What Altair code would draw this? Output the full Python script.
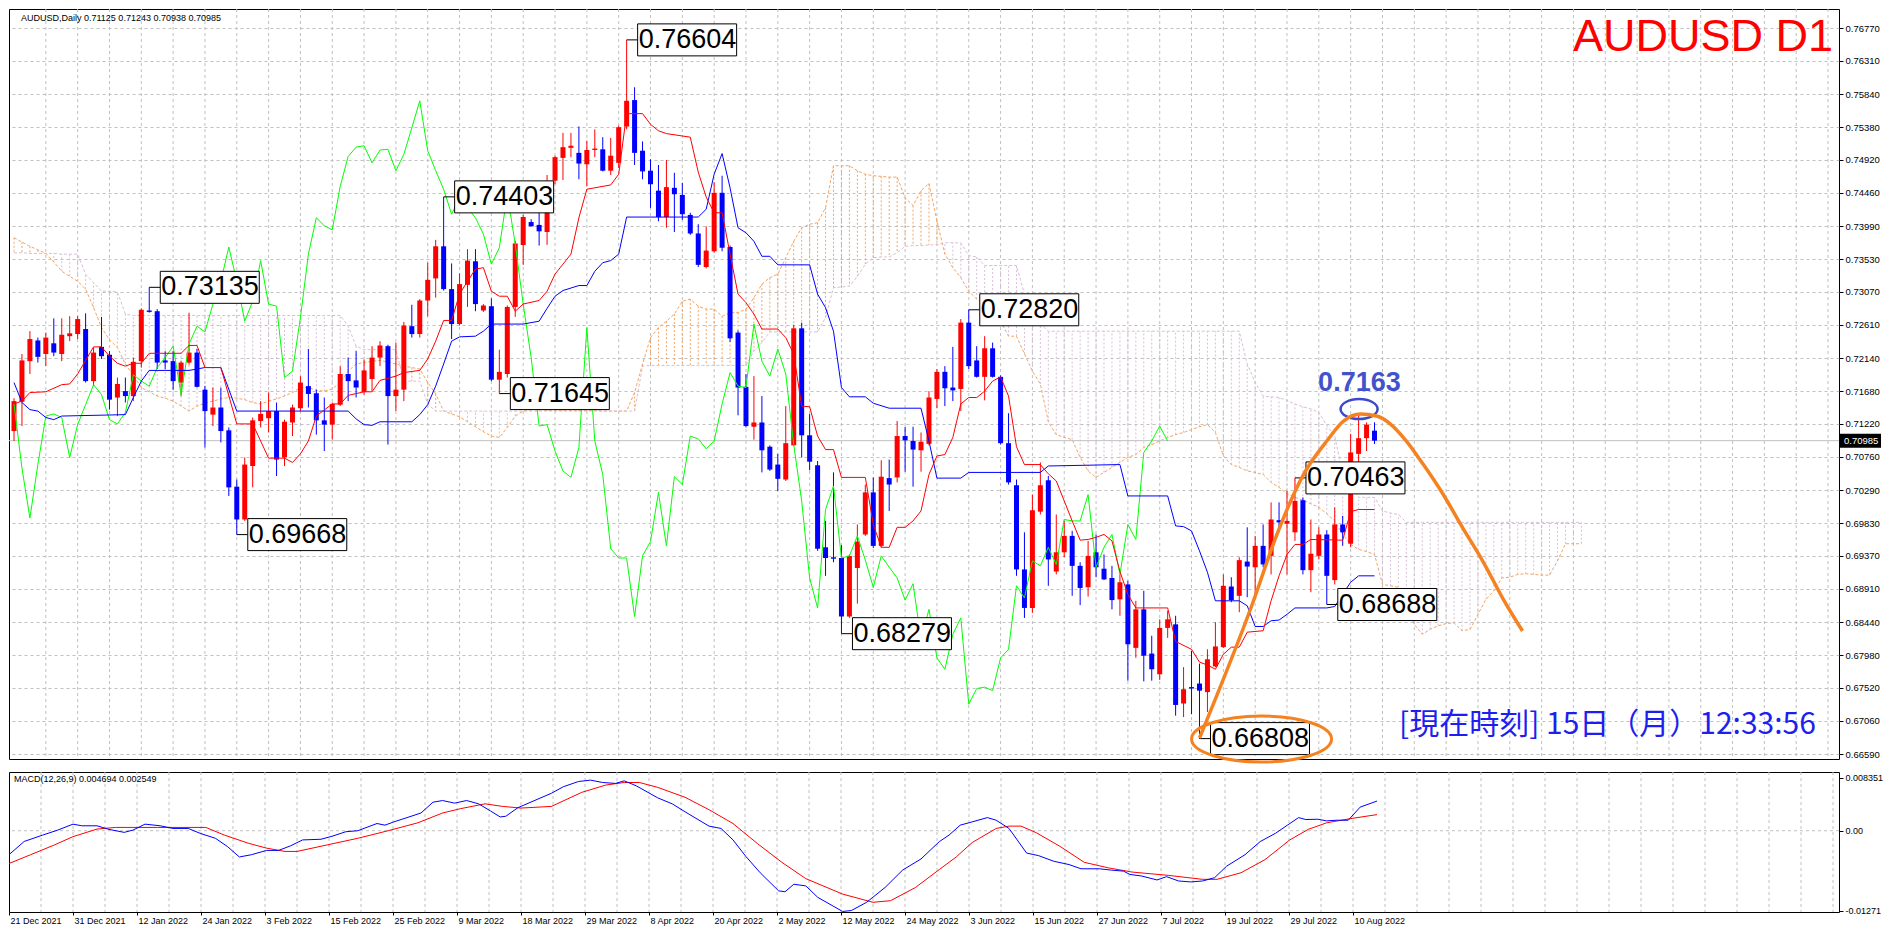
import altair as alt
import pandas as pd

# ---------------- candles (bar index 0 = 21 Dec 2021) ----------------
opens = [.7112,.7153,.7210,.7239,.7220,.7235,.7220,.7245,.7248,.7255,
         .7182,.7230,.7219,.7159,.7168,.7161,.7210,.7281,.7280,.7211,
         .7210,.7180,.7208,.7222,.7170,.7135,.7145,.7113,.7034,.6988,
         .7063,.7126,.7130,.7140,.7075,.7124,.7144,.7175,.7165,.7127,
         .7121,.7149,.7192,.7183,.7167,.7185,.7215,.7231,.7161,.7170,
         .7259,.7248,.7295,.7326,.7371,.7311,.7262,.7317,.7350,.7281,
         .7287,.7184,.7192,.7286,.7373,.7405,.7401,.7391,.7463,.7495,
         .7509,.7502,.7486,.7506,.7507,.7477,.7488,.7539,.7576,.7505,
         .7477,.7449,.7412,.7453,.7443,.7415,.7389,.7342,.7364,.7446,
         .7370,.7250,.7174,.7118,.7124,.7090,.7065,.7044,.7092,.7256,
         .7106,.7064,.6949,.6935,.6934,.6852,.6920,.6967,.7026,.6951,
         .7046,.7047,.7105,.7098,.7085,.7094,.7157,.7195,.7173,.7171,
         .7264,.7211,.7188,.7228,.7188,.7095,.7036,.6918,.6864,.6999,
         .7043,.6915,.6942,.6965,.6923,.6893,.6942,.6919,.6906,.6876,
         .6897,.6808,.6862,.6800,.6771,.6836,.6841,.6730,.6753,.6758,
         .6746,.6782,.6809,.6894,.6881,.6929,.6921,.6951,.6937,.6987,
         .6982,.6970,.7015,.6917,.6937,.6967,.6903,.6981,.6954,.7080,
         .7102,.71125]
highs = [.7158,.7220,.7252,.7243,.7250,.7270,.7270,.7273,.7273,.7277,
         .7229,.7272,.7224,.7187,.7187,.7215,.7284,.73135,.7283,.7224,
         .7224,.7210,.7278,.7227,.7175,.7173,.7173,.7117,.7044,.7075,
         .7131,.7154,.7166,.7152,.7128,.7149,.7189,.7227,.7170,.7159,
         .7152,.7203,.7215,.7224,.7212,.7231,.7238,.7233,.7236,.7265,
         .7289,.7297,.7348,.7380,.74403,.7347,.7333,.7367,.7367,.7290,
         .7298,.7226,.7288,.7379,.7415,.7409,.7418,.7471,.7498,.7530,
         .7530,.7539,.7519,.7535,.7524,.7523,.7540,.76604,.7594,.7518,
         .7493,.7485,.7492,.7474,.7460,.7418,.7402,.7399,.7461,.7470,
         .7372,.7253,.7192,.7189,.7161,.7092,.7080,.7147,.7261,.7264,
         .7136,.7070,.6986,.7054,.6952,.6939,.6981,.7037,.7047,.7071,
         .7072,.7126,.7118,.7118,.7110,.7168,.7199,.7203,.7230,.7269,
         .72820,.7231,.7245,.7236,.7190,.7137,.7044,.6970,.7023,.7068,
         .7049,.6995,.6986,.6972,.6928,.6958,.6967,.6939,.6923,.6911,
         .6902,.6874,.6888,.6825,.6848,.6860,.6853,.6781,.6804,.6786,
         .6806,.6844,.6911,.6907,.6935,.6977,.6965,.6981,.7012,.7012,
         .7028,.70463,.7019,.6988,.6977,.6973,.7005,.6993,.7108,.7135,
         .7124,.71243]
lows = [.7098,.7119,.7192,.7208,.7203,.7217,.7210,.7238,.7241,.7180,
        .7175,.7213,.7142,.7133,.7152,.7154,.7201,.7278,.7199,.7199,
        .7170,.7161,.7205,.7173,.7089,.7119,.7096,.7021,.69668,.6986,
        .7033,.7117,.7110,.7049,.7063,.7105,.7140,.7145,.7107,.7084,
        .7100,.7147,.7154,.7159,.7163,.7168,.7203,.7093,.7140,.7154,
        .7243,.7243,.7273,.7299,.7309,.7241,.7260,.7286,.7280,.7279,
        .7182,.71645,.7187,.7272,.7345,.7399,.7372,.7373,.7458,.7464,
        .7496,.7465,.7455,.7496,.7476,.7471,.7481,.7535,.7485,.7465,
        .7425,.7406,.7397,.7391,.7408,.7387,.7342,.7340,.7362,.7364,
        .7237,.7134,.7117,.7100,.7054,.7056,.7028,.7042,.7091,.7075,
        .7057,.6944,.6909,.6928,.68279,.6850,.6870,.6965,.6948,.6949,
        .7000,.7040,.7055,.7034,.7055,.7092,.7144,.7147,.7154,.7140,
        .7199,.7187,.7155,.7187,.7093,.7037,.6909,.6850,.6857,.6995,
        .6895,.6911,.6935,.6881,.6868,.6880,.6907,.6903,.6862,.6853,
        .6762,.6794,.6761,.6762,.6763,.6822,.6713,.6711,.6715,.66808,
        .6718,.6781,.6808,.6872,.6858,.6879,.6879,.6921,.6911,.6970,
        .6911,.6958,.6911,.6886,.6932,.68688,.6897,.6951,.6949,.7062,
        .7084,.70938]
closes = [.7154,.7211,.7241,.7216,.7243,.7222,.7247,.7249,.7269,.7182,
          .7222,.7217,.7156,.7178,.7161,.7209,.7282,.7279,.7208,.7208,
          .7182,.7208,.7222,.7174,.7140,.7145,.7112,.7033,.6988,.7065,
          .7127,.7136,.7140,.7072,.7125,.7145,.7180,.7164,.7127,.7121,
          .7150,.7192,.7182,.7173,.7197,.7215,.7232,.7161,.7170,.7260,
          .7248,.7295,.7324,.7371,.7311,.7262,.7318,.7351,.7290,.7288,
          .7184,.7195,.7286,.7375,.7412,.7399,.7392,.7462,.7496,.7510,
          .7512,.7487,.7506,.7508,.7477,.7498,.7538,.7575,.7502,.7476,
          .7458,.7412,.7454,.7444,.7416,.7389,.7345,.7365,.7446,.7369,
          .7242,.7173,.7119,.7124,.7085,.7058,.7045,.7095,.7256,.7106,
          .7069,.6947,.6934,.6933,.6852,.6937,.6957,.7026,.6951,.7048,
          .7037,.7105,.7099,.7086,.7097,.7159,.7195,.7172,.7169,.7264,
          .7203,.7188,.7228,.7188,.7095,.7040,.6918,.6864,.7001,.7036,
          .6932,.6942,.6965,.6923,.6892,.6937,.6921,.6904,.6875,.6900,
          .6813,.6862,.6797,.6778,.6836,.6848,.6728,.6750,.6751,.6748,
          .6792,.6810,.6895,.6875,.6931,.6922,.6951,.6925,.6988,.6984,
          .6986,.7014,.6917,.6940,.6967,.6909,.6981,.6970,.7082,.7102,
          .7121,.70985]

# ---------------- Ichimoku lines (bar, price) ----------------
tenkan = [(0,.7150),(1,.7154),(2,.7166),(4,.7167),(6,.7177),(7,.7178),(8,.7192),(10,.7230),(11,.7230),
          (12,.7217),(13,.7207),(14,.7203),(15,.7207),(16,.7207),(17,.7221),(21,.7221),(22,.7232),(23,.7232),
          (24,.7201),(26,.7201),(28,.7122),(30,.7122),(32,.7074),(34,.7074),(35,.7068),(36,.7080),(37,.7098),
          (38,.7133),(40,.7150),(41,.7150),(42,.7162),(44,.7167),(45,.7167),(46,.7183),(48,.7189),(49,.7194),
          (51,.7197),(52,.7213),(53,.7238),(54,.7267),(55,.7267),(56,.7304),(57,.7322),(58,.7339),(59,.7341),
          (60,.7308),(61,.7301),(62,.7301),(63,.7280),(64,.7290),(66,.7295),(67,.7308),(68,.7332),(69,.7346),
          (70,.7360),(71,.7411),(72,.7451),(73,.7453),(75,.7457),(76,.7472),(77,.7557),(79,.7557),(80,.7542),
          (81,.7533),(82,.7529),(85,.7524),(86,.7475),(87,.7440),(88,.7418),(89,.7418),(90,.7360),(91,.7304),
          (92,.7292),(93,.7276),(94,.7255),(96,.7255),(97,.7243),(98,.7220),(99,.7147),(100,.7146),(101,.7105),
          (102,.7086),(103,.7086),(104,.7047),(107,.7047),(108,.6981),(109,.6949),(110,.6949),(111,.6977),
          (112,.6977),(113,.6986),(114,.7000),(115,.7051),(116,.7077),(117,.7079),(118,.7103),(119,.7150),
          (120,.7159),(121,.7159),(122,.7168),(123,.7182),(124,.7188),(125,.7161),(126,.7090),(127,.7065),
          (129,.7065),(130,.7052),(131,.7042),(132,.7014),(133,.6986),(134,.6959),(135,.6960),(136,.6963),
          (137,.6967),(138,.6958),(139,.6915),(140,.6883),(141,.6864),(145,.6864),(146,.6817),(148,.6806),
          (149,.6788),(150,.6784),(151,.6778),(152,.6799),(153,.6809),(154,.6809),(155,.6830),(157,.6832),
          (158,.6874),(159,.6909),(160,.6939),(161,.6953),(162,.6953),(163,.6960),(167,.6959),(168,.6999),
          (169,.7002),(171,.7002)]
kijun = [(0,.7180),(1,.7152),(2,.7142),(3,.7140),(4,.7131),(5,.7128),(6,.7133),(14,.7135),(15,.7159),
         (16,.7182),(17,.7197),(22,.7197),(23,.7199),(24,.7201),(26,.7201),(28,.7140),(42,.7140),(43,.7129),
         (44,.7121),(45,.7120),(46,.7125),(50,.7125),(51,.7135),(52,.7149),(53,.7175),(54,.7206),(55,.7238),
         (56,.7244),(58,.7245),(59,.7252),(60,.7262),(64,.7262),(66,.7266),(67,.7284),(68,.7301),(69,.7309),
         (71,.7316),(72,.7316),(73,.7336),(74,.7348),(75,.7351),(76,.7360),(77,.7412),(86,.7412),(87,.7423),
         (88,.7472),(89,.7501),(90,.7453),(91,.7397),(92,.7390),(93,.7378),(94,.7357),(95,.7357),(96,.7345),
         (100,.7345),(101,.7304),(102,.7285),(103,.7252),(104,.7173),(105,.7160),(107,.7160),(108,.7151),
         (110,.7144),(114,.7144),(115,.7098),(116,.7046),(119,.7046),(120,.7054),(129,.7054),(130,.7063),
         (139,.7065),(140,.7021),(145,.7021),(146,.6979),(147,.6978),(148,.6972),(149,.6944),(150,.6914),
         (151,.6874),(154,.6874),(155,.6867),(156,.6838),(157,.6838),(158,.6846),(159,.6847),(160,.6855),
         (161,.6864),(165,.6864),(166,.6866),(167,.6883),(168,.6900),(169,.6909),(171,.6909)]
chikou = [(0,.7150),(1,.7060),(2,.6990),(3,.7065),(4,.7133),(5,.7136),(6,.7131),(7,.7075),(8,.7121),(9,.7149),
          (10,.7177),(11,.7163),(12,.7128),(13,.7122),(14,.7138),(15,.7191),(16,.7182),(17,.7175),(18,.7201),
          (19,.7215),(20,.7231),(21,.7163),(22,.7234),(23,.7259),(24,.7251),(25,.7290),(26,.7322),(27,.7370),
          (28,.7322),(29,.7266),(30,.7294),(31,.7351),(32,.7290),(33,.7287),(34,.7187),(35,.7196),(36,.7271),
          (37,.7360),(38,.7411),(39,.7400),(40,.7394),(41,.7455),(42,.7497),(43,.7510),(44,.7512),(45,.7488),
          (46,.7506),(47,.7507),(48,.7477),(49,.7500),(50,.7537),(51,.7575),(52,.7505),(53,.7477),(54,.7451),
          (55,.7416),(56,.7439),(57,.7425),(58,.7411),(59,.7388),(60,.7346),(61,.7369),(62,.7444),(63,.7374),
          (64,.7290),(65,.7215),(66,.7119),(67,.7121),(68,.7084),(69,.7056),(70,.7047),(71,.7089),(72,.7257),
          (73,.7098),(74,.7051),(75,.6947),(76,.6934),(77,.6934),(78,.6852),(79,.6937),(80,.6957),(81,.7026),
          (82,.6951),(83,.7048),(84,.7037),(85,.7105),(86,.7101),(87,.7087),(88,.7098),(89,.7150),(90,.7194),
          (91,.7175),(92,.7173),(93,.7262),(94,.7210),(95,.7189),(96,.7227),(97,.7192),(98,.7093),(99,.7014),
          (100,.6906),(101,.6864),(102,.7002),(103,.7035),(104,.6934),(105,.6937),(106,.6965),(107,.6931),
          (108,.6893),(109,.6937),(110,.6921),(111,.6906),(112,.6875),(113,.6898),(114,.6820),(115,.6862),
          (116,.6794),(117,.6778),(118,.6827),(119,.6850),(120,.6729),(121,.6751),(122,.6753),(123,.6748),
          (124,.6794),(125,.6806),(126,.6895),(127,.6878),(128,.6930),(129,.6923),(130,.6949),(131,.6925),
          (132,.6988),(133,.6986),(134,.6986),(135,.7023),(136,.6921),(137,.6949),(138,.6967),(139,.6911),
          (140,.6981),(141,.6960),(142,.7082),(143,.7098),(144,.7119),(145,.7098)]

# Senkou spans, one value per bar 0..197
span_a = [.7383,.7377,.7371,.7366,.7361,.7349,.7336,.7329,.7322,.7311,
          .7285,.7257,.7240,.7229,.7206,.7190,.7173,.7167,.7161,.7158,
          .7154,.7147,.7140,.7147,.7151,.7154,.7157,.7159,.7158,.7156,
          .7152,.7150,.7154,.7157,.7161,.7166,.7173,.7173,.7169,.7168,
          .7171,.7180,.7196,.7206,.7208,.7210,.7211,.7209,.7206,.7203,
          .7201,.7199,.7180,.7164,.7140,.7136,.7132,.7125,.7118,.7111,
          .7105,.7103,.7117,.7133,.7140,.7142,.7142,.7141,.7141,.7141,
          .7141,.7141,.7141,.7141,.7140,.7140,.7140,.7140,.7166,.7206,
          .7243,.7257,.7266,.7276,.7294,.7297,.7287,.7283,.7283,.7273,
          .7278,.7278,.7283,.7299,.7318,.7327,.7332,.7355,.7378,.7397,
          .7402,.7404,.7425,.7484,.7484,.7484,.7477,.7472,.7470,.7469,
          .7468,.7468,.7439,.7428,.7449,.7459,.7407,.7360,.7341,.7327,
          .7308,.7297,.7290,.7276,.7266,.7245,.7245,.7220,.7196,.7178,
          .7125,.7107,.7103,.7100,.7075,.7056,.7047,.7054,.7061,.7068,
          .7075,.7079,.7089,.7093,.7098,.7103,.7107,.7110,.7114,.7118,
          .7121,.7110,.7077,.7065,.7061,.7056,.7054,.7051,.7040,.7033,
          .7024,.7019,.7015,.7010,.7005,.6996,.6986,.6967,.6953,.6946,
          .6943,.6939,.6897,.6895,.6893,.6867,.6841,.6827,.6834,.6839,
          .6842,.6843,.6832,.6834,.6855,.6876,.6888,.6906,.6907,.6911,
          .6912,.6911,.6910,.6910,.6930,.6954,.6954,.6954]
span_b = ([.7362,.7362,.7361,.7361,.7361,.7361,.7360,.7360,.7360,.7332,
           .7320,.7308,.7308,.7307,.7276] + [.7274] * 27 +
          [.7259,.7231] + [.7226] * 5 + [.7182] * 3 + [.7150] + [.7140] * 26 +
          [.7203] + [.7204] * 13 + [.7224,.7236] + [.7251] * 7 +
          [.7271,.7313,.7314,.7315,.7329,.7346,.7355,.7356,.7356,.7362,
           .7371,.7372,.7372,.7373,.7373,.7376,.7376,.7376,.7358,.7356] +
          [.7344] * 5 + [.7304,.7285,.7262] + [.7252] * 25 +
          [.7206,.7180,.7161,.7160,.7159,.7155,.7150,.7146,.7143,.7138,
           .7120,.7105,.7051,.7035,.7019,.7019,.7019,.7000,.6997,.6995] +
          [.6984] * 23)

# ---------------- MACD (bar, value) ----------------
macd_main = [(0,-.0038),(1.9,-.0017),(4.2,-.0007),(6.1,.0001),(8.0,.00104),(9.1,.00078),(11.0,.00078),
             (12.5,.00021),(14.4,-.00026),(15.5,.0001),(17.0,.00104),(18.9,.00078),(20.5,.00036),(22.4,.00036),
             (23.9,-.00042),(25.8,-.0012),(27.3,-.0025),(28.8,-.00416),(30.3,-.0038),(32.2,-.00312),
             (33.7,-.00312),(35.2,-.00239),(36.7,-.00146),(39.0,-.00135),(40.5,-.00083),(42.1,-.00016),
             (43.6,0.0),(46.0,.00114),(47.0,.00088),(48.1,.0014),(50.0,.00218),(51.5,.00281),(53.0,.00452),
             (54.2,.00478),(55.7,.00437),(57.2,.00478),(58.7,.00426),(60.2,.00312),(61.4,.00218),(62.1,.00229),
             (63.6,.00364),(65.5,.00468),(67.8,.00593),(69.3,.00697),(71.2,.0078),(72.7,.00801),(74.2,.00764),
             (75.8,.00749),(76.9,.0079),(78.4,.00712),(81.1,.0052),(82.9,.00426),(84.9,.0027),(87.5,.00073),
             (89.0,.00036),(90.5,-.00146),(92.1,-.00406),(93.9,-.00666),(96.2,-.00952),(97.0,-.00967),
             (98.1,-.00848),(99.6,-.00874),(101.1,-.01056),(104.2,-.01279),(105.3,-.01264),(107.2,-.01134),
             (109.5,-.009),(111.7,-.00624),(114.0,-.00447),(116.3,-.00172),(117.5,-.0007),(118.9,.00088),
             (120.4,.0014),(122.3,.00208),(123.4,.00166),(125.0,.00036),(127.2,-.00354),(128.7,-.00395),
             (130.6,-.00484),(132.5,-.00536),(134.0,-.00603),(136.3,-.00603),(137.8,-.00624),(139.3,-.0064),
             (140.1,-.00692),(141.6,-.00718),(143.5,-.0078),(144.7,-.00728),(146.2,-.00796),(147.7,-.00811),
             (149.2,-.00796),(150.7,-.00744),(152.2,-.00562),(154.5,-.0038),(156.4,-.00172),(158.3,-.00042),
             (159.8,.00088),(161.2,.00208),(162.1,.00177),(163.6,.00182),(164.7,.00156),(165.9,.00166),
             (167.4,.00166),(168.9,.00374),(171.0,.0047)]
macd_signal = [(0,-.0052),(2.7,-.0038),(5.7,-.00224),(8.0,-.00094),(11.0,.00026),(13.3,.00052),(18.6,.00052),
               (24.6,.00052),(26.9,-.00068),(29.9,-.00198),(32.2,-.00276),(34.5,-.00328),(36.0,-.00328),
               (39.8,-.00224),(43.6,-.0012),(47.4,0.0),(51.1,.00125),(54.2,.00281),(56.4,.00348),(59.5,.00426),
               (61.7,.00385),(64.0,.00359),(67.8,.00385),(71.6,.00608),(74.6,.00723),(76.9,.00764),(78.8,.00764),
               (81.1,.00686),(84.5,.0053),(87.5,.00333),(90.5,.00114),(93.6,-.00208),(96.6,-.005),(99.6,-.00759),
               (104.2,-.01004),(108.0,-.01134),(110.2,-.01108),(113.3,-.009),(116.3,-.00614),(118.4,-.00416),
               (120.4,-.00187),(123.4,.00036),(125.0,.00073),(126.5,.00073),(128.4,-.00031),(131.4,-.0025),
               (134.4,-.005),(137.4,-.00588),(140.4,-.00655),(144.9,-.00707),(149.2,-.0077),(151.0,-.0077),
               (154.0,-.00666),(157.0,-.00458),(160.1,-.00146),(162.4,.00021),(164.7,.00125),(167.7,.00192),
               (171.0,.00255)]

# ---------------- labels / annotations ----------------
price_ticks = [0.76770, 0.76310, 0.75840, 0.75380, 0.74920, 0.74460, 0.73990, 0.73530, 0.73070,
               0.72610, 0.72140, 0.71680, 0.71220, 0.70760, 0.70290, 0.69830, 0.69370, 0.68910,
               0.68440, 0.67980, 0.67520, 0.67060, 0.66590]
macd_ticks = [0.008351, 0.0, -0.01271]
date_labels = ['21 Dec 2021', '31 Dec 2021', '12 Jan 2022', '24 Jan 2022', '3 Feb 2022', '15 Feb 2022',
               '25 Feb 2022', '9 Mar 2022', '18 Mar 2022', '29 Mar 2022', '8 Apr 2022', '20 Apr 2022',
               '2 May 2022', '12 May 2022', '24 May 2022', '3 Jun 2022', '15 Jun 2022', '27 Jun 2022',
               '7 Jul 2022', '19 Jul 2022', '29 Jul 2022', '10 Aug 2022']
ann_bars = [17, 77, 54, 61, 28, 120, 104, 161, 165, 149]
ann_prices = [0.73135, 0.76604, 0.74403, 0.71645, 0.69668, 0.72820, 0.68279, 0.70463, 0.68688, 0.66808]
arc_pts = [(149.0,.66816),(155.6,.68681),(158.75,.69676),(162.1,.70517),(165.0,.70980),(167.1,.71260),
           (169.25,.71358),(171.25,.71330),(173.0,.71218),(175.0,.70980),(177.1,.70657),(179.6,.70237),
           (182.1,.69760),(184.6,.69297),(187.1,.68779),(189.6,.68316)]
last_price = 0.70985
target_text = "0.7163"
target_pos = (169.1, 0.71793)
blue_ell = (169.06, 0.71428)
orange_ell = (156.8, 0.66802)
header = "AUDUSD,Daily  0.71125 0.71243 0.70938 0.70985"
macd_header = "MACD(12,26,9) 0.004694 0.002549"
clock = "[現在時刻] 15日（月）12:33:56"

# ---------------- geometry / style ----------------
W, H, MH = 1830, 750, 140
XMAX = W / 8
Y_HI = 0.77037
Y_LO = Y_HI - H * 0.0001402
M_HI = 0.009301
M_LO = M_HI - MH * 0.0001584
RED, BLUE, GREEN = "#FF0000", "#0000FF", "#00FF00"
SANDY, THISTLE, GRID = "#F4A460", "#D8BFD8", "#C0C0C0"
ORANGE = "#F58220"
FONT = "Liberation Sans"

xsc = alt.Scale(domain=[0, XMAX], nice=False, zero=False)
ysc = alt.Scale(domain=[Y_LO, Y_HI], nice=False, zero=False)
msc = alt.Scale(domain=[M_LO, M_HI], nice=False, zero=False)

YAX = alt.Axis(orient="right", values=price_ticks, format=".5f", grid=True, gridDash=[3, 3],
               gridColor=GRID, gridWidth=1, tickSize=4, tickColor="black", domain=False,
               labelFont=FONT, labelFontSize=9.5, labelColor="black", labelPadding=2,
               labelOverlap=False, labelFlush=False, title=None)
date_js = "[" + ",".join("'" + d + "'" for d in date_labels) + "]"
MXAX = alt.Axis(values=list(range(0, 8 * len(date_labels), 8)), labelExpr=date_js + "[datum.value / 8]",
                labelAlign="left", labelOffset=1, tickSize=3, tickColor="black", domain=False, grid=False,
                labelFont=FONT, labelFontSize=9, labelColor="black", labelPadding=1, labelOverlap=False,
                labelFlush=False, title=None)
MYAX = alt.Axis(orient="right", values=macd_ticks,
                labelExpr="datum.value == 0 ? '0.00' : (datum.value > 0 ? '0.008351' : '-0.01271')",
                grid=False, tickSize=4, tickColor="black", domain=False, labelFont=FONT, labelFontSize=9,
                labelColor="black", labelPadding=2, labelOverlap=False, labelFlush=False, title=None)


def X(f):
    return alt.X(f, type="quantitative", scale=xsc, axis=None)


def Y(f):
    return alt.Y(f, type="quantitative", scale=ysc, axis=YAX)


def MX(f):
    return alt.X(f, type="quantitative", scale=xsc, axis=MXAX)


def MY(f):
    return alt.Y(f, type="quantitative", scale=msc, axis=MYAX)


def ellipse_path(k):
    c = 0.5523
    return (f"M -1 0 C -1 {-c*k:.4f} {-c:.4f} {-k:.4f} 0 {-k:.4f} "
            f"C {c:.4f} {-k:.4f} 1 {-c*k:.4f} 1 0 "
            f"C 1 {c*k:.4f} {c:.4f} {k:.4f} 0 {k:.4f} "
            f"C {-c:.4f} {k:.4f} -1 {c*k:.4f} -1 0 Z")


def fixed_text(txt, x, y, **kw):
    return alt.Chart(pd.DataFrame({"t": [txt]})).mark_text(**kw).encode(
        x=alt.value(x), y=alt.value(y), text="t:N")


def line(pts, color, x_fn, y_fn, dash=None, width=1.0):
    kw = dict(color=color, strokeWidth=width, clip=True)
    if dash:
        kw["strokeDash"] = dash
    return alt.Chart(pd.DataFrame(pts, columns=["bar", "v"])).mark_line(**kw).encode(
        x=x_fn("bar"), y=y_fn("v"))


# ---------------- main pane ----------------
n = len(opens)
cdf = pd.DataFrame({"bar": list(range(n)), "o": opens, "h": highs, "l": lows, "c": closes})
cdf["col"] = [RED if c >= o else BLUE for o, c in zip(opens, closes)]

gdf = pd.DataFrame({"g": list(range(4, int(XMAX) + 1, 4))})
vgrid = alt.Chart(gdf).mark_rule(strokeDash=[3, 3], color=GRID, strokeWidth=1).encode(x=X("g"))

yaxis = alt.Chart(pd.DataFrame({"p": price_ticks})).mark_rule(opacity=0).encode(y=Y("p"))

nb = min(len(span_a), len(span_b))
cl = pd.DataFrame({"bar": list(range(nb)), "a": span_a[:nb], "b": span_b[:nb]})
cl["col"] = [SANDY if a >= b else THISTLE for a, b in zip(cl["a"], cl["b"])]
hatch = alt.Chart(cl).mark_rule(strokeDash=[2, 2], strokeWidth=1, clip=True).encode(
    x=X("bar"), y=Y("a"), y2=alt.Y2("b"), color=alt.Color("col:N", scale=None))
line_a = line(list(zip(cl["bar"], cl["a"])), SANDY, X, Y, dash=[3, 2])
line_b = line(list(zip(cl["bar"], cl["b"])), THISTLE, X, Y, dash=[3, 2])

cur = alt.Chart(pd.DataFrame({"p": [last_price]})).mark_rule(color=GRID, strokeWidth=1).encode(y=Y("p"))

wicks = alt.Chart(cdf).mark_rule(strokeWidth=1, clip=True).encode(
    x=X("bar"), y=Y("l"), y2=alt.Y2("h"), color=alt.Color("col:N", scale=None))
bodies = alt.Chart(cdf).mark_bar(size=5, clip=True).encode(
    x=X("bar"), y=Y("o"), y2=alt.Y2("c"), color=alt.Color("col:N", scale=None))

l_chikou = line(chikou, GREEN, X, Y)
l_kijun = line(kijun, BLUE, X, Y)
l_tenkan = line(tenkan, RED, X, Y)

adf = pd.DataFrame({"bar": ann_bars, "p": ann_prices, "t": [f"{p:.5f}" for p in ann_prices]})
leaders = alt.Chart(adf).mark_rule(color="black", strokeWidth=1, x2Offset=11).encode(
    x=X("bar"), x2=alt.X2("bar"), y=Y("p"))
boxes = alt.Chart(adf).mark_rect(fill="white", stroke="black", strokeWidth=1, xOffset=11,
                                 x2Offset=110, yOffset=-16, y2Offset=16).encode(
    x=X("bar"), x2=alt.X2("bar"), y=Y("p"), y2=alt.Y2("p"))
atext = alt.Chart(adf).mark_text(align="left", baseline="middle", dx=12, fontSize=27, font=FONT,
                                 color="black").encode(x=X("bar"), y=Y("p"), text="t:N")

bell = alt.Chart(pd.DataFrame({"bar": [blue_ell[0]], "p": [blue_ell[1]]})).mark_point(
    shape=ellipse_path(10 / 18.5), size=37 * 37, filled=False, color="#3F48CC", strokeWidth=2.5,
    opacity=1).encode(x=X("bar"), y=Y("p"))
ttext = alt.Chart(pd.DataFrame({"bar": [target_pos[0]], "p": [target_pos[1]], "t": [target_text]})).mark_text(
    fontSize=27, fontWeight="bold", color="#4352CC", align="center", baseline="middle", font=FONT).encode(
    x=X("bar"), y=Y("p"), text="t:N")
oell = alt.Chart(pd.DataFrame({"bar": [orange_ell[0]], "p": [orange_ell[1]]})).mark_point(
    shape=ellipse_path(23 / 70), size=140 * 140, filled=False, color=ORANGE, strokeWidth=3,
    opacity=1).encode(x=X("bar"), y=Y("p"))
arc = alt.Chart(pd.DataFrame(arc_pts, columns=["bar", "v"])).mark_line(
    color=ORANGE, strokeWidth=3.5, interpolate="monotone").encode(x=X("bar"), y=Y("v"))

t_header = fixed_text(header, 12, 9, align="left", baseline="middle", fontSize=9, font=FONT, color="black")
t_title = fixed_text("AUDUSD D1", W - 6, 42, align="right", baseline="alphabetic", fontSize=45,
                     font=FONT, color=RED)
t_clock = fixed_text(clock, 1390, 716, align="left", baseline="middle", fontSize=30,
                     font="Noto Sans CJK JP", color="#1E1EF0")

pb = pd.DataFrame({"p": [last_price], "t": [f"{last_price:.5f}"]})
pbox = alt.Chart(pb).mark_rect(color="black", yOffset=-7, y2Offset=7).encode(
    x=alt.value(W), x2=alt.value(W + 42), y=Y("p"), y2=alt.Y2("p"))
ptext = alt.Chart(pb).mark_text(align="left", baseline="middle", color="white", fontSize=9.5,
                                font=FONT).encode(x=alt.value(W + 5), y=Y("p"), text="t:N")

main = alt.layer(vgrid, yaxis, hatch, line_a, line_b, cur, wicks, bodies, l_chikou, l_kijun, l_tenkan,
                 leaders, boxes, atext, bell, ttext, oell, arc, t_header, t_title, t_clock,
                 pbox, ptext).properties(width=W, height=H)

# ---------------- MACD pane ----------------
mgrid = alt.Chart(gdf).mark_rule(strokeDash=[3, 3], color=GRID, strokeWidth=1).encode(x=MX("g"))
mzero = alt.Chart(pd.DataFrame({"z": [0.0]})).mark_rule(strokeDash=[3, 3], color=GRID,
                                                        strokeWidth=1).encode(y=MY("z"))
m_main = line(macd_main, BLUE, MX, MY)
m_sig = line(macd_signal, RED, MX, MY)
t_mh = fixed_text(macd_header, 5, 7, align="left", baseline="middle", fontSize=9, font=FONT, color="black")

macd = alt.layer(mgrid, mzero, m_sig, m_main, t_mh).properties(width=W, height=MH)

chart = alt.vconcat(main, macd, spacing=2, padding=0).configure(
    font=FONT, background="white").configure_view(stroke="black", strokeWidth=1)

chart.save("out.html", embed_options={"renderer": "svg", "actions": False})
